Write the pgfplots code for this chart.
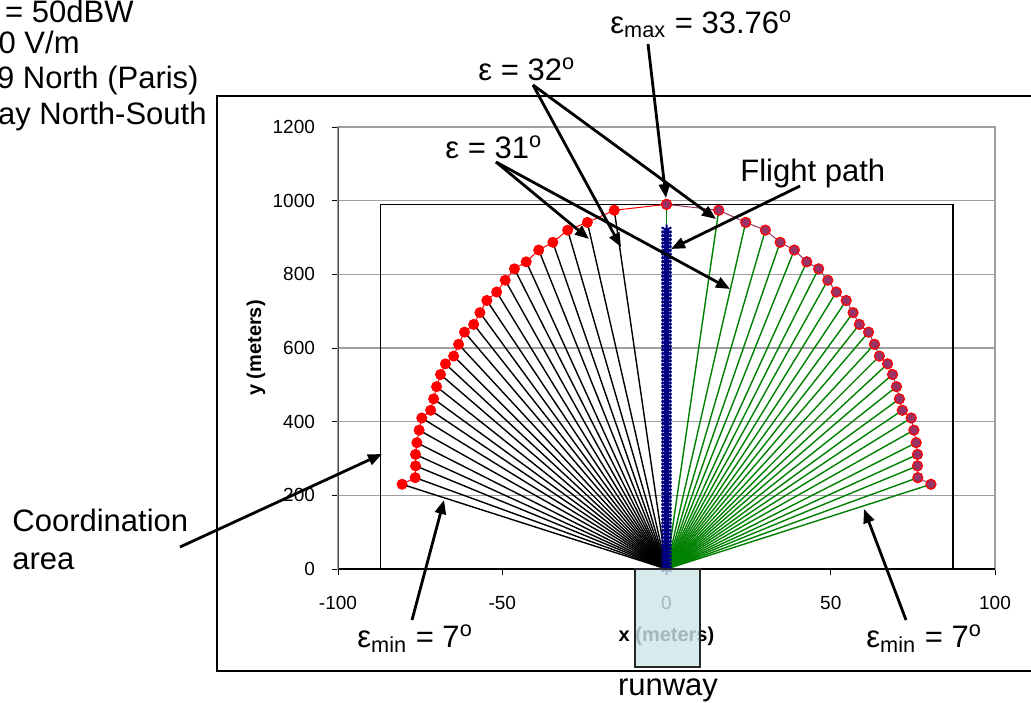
\documentclass[border=0pt]{standalone}
\usepackage{fontspec}
\setmainfont{Liberation Sans}
\usepackage{pgfplots}
\pgfplotsset{compat=1.18}
\usepackage{pgfplotstable}
\usetikzlibrary{arrows.meta}
\definecolor{fangreen}{RGB}{0,128,0}
\definecolor{plum}{RGB}{153,51,102}
\definecolor{navyblue}{RGB}{0,0,128}
\definecolor{runwayc}{RGB}{204,230,230}

\pgfplotstableread{
x y
-80.5 230
-76.5 248
-76.4 280
-76.4 311
-76.0 343
-75.3 377
-74.5 410
-71.8 431
-70.9 462
-70.0 495
-68.8 528
-67.3 557
-64.8 578
-63.3 610
-61.5 643
-58.7 664
-56.8 696
-54.7 729
-51.7 752
-49.1 784
-46.3 815
-42.7 834
-38.9 866
-34.6 887
-30.1 920
-24.1 941
-15.9 974
0 990
}\leftpts

\pgfplotstableread{
x y
0 990
15.9 974
24.1 941
30.1 920
34.6 887
38.9 866
42.7 834
46.3 815
49.1 784
51.7 752
54.7 729
56.8 696
58.7 664
61.5 643
63.3 610
64.8 578
67.3 557
68.8 528
70.0 495
70.9 462
71.8 431
74.5 410
75.3 377
76.0 343
76.4 311
76.4 280
76.5 248
80.5 230
}\rightpts

\newcommand{\bigfont}{\fontsize{15.5}{18}\selectfont}
\newcommand{\degr}{\textsuperscript{o}}

\begin{document}
\begin{tikzpicture}
\begin{scope}[x=0.5pt,y=-0.5pt]
\useasboundingbox (0,0) rectangle (1031,702);
\clip (0,0) rectangle (1031,702);
\draw[line width=1pt] (217,96) rectangle (1045,671);
\end{scope}

\begin{axis}[
  at={(169pt,-284.5pt)}, anchor=south west,
  scale only axis, width=328.5pt, height=221pt,
  xmin=-100, xmax=100, ymin=0, ymax=1200,
  xtick={-100,-50,0,50,100}, ytick={0,200,400,600,800,1000,1200},
  xtick pos=bottom, ytick pos=left,
  tick align=outside, major tick length=3pt,
  tick style={black, line width=0.5pt},
  ymajorgrids, grid style={gray!75, line width=0.8pt},
  axis line style={gray!75, line width=0.8pt},
  /pgf/number format/assume math mode=true,
  /pgf/number format/1000 sep={},
  ticklabel style={font=\fontsize{9.5}{11}\selectfont},
  xticklabel style={yshift=-7pt},
  yticklabel style={xshift=-5pt},
  xlabel={\textbf{x (meters)}}, ylabel={\textbf{y (meters)}},
  x label style={at={(axis description cs:0.5,-0.152)}, anchor=center, font=\fontsize{10}{12}\selectfont},
  y label style={at={(axis description cs:-0.125,0.5)}, anchor=center, font=\fontsize{10}{12}\selectfont},
]
% fan lines
\addplot[black, line width=0.7pt, no markers, quiver={u=\thisrow{x}, v=\thisrow{y}}] table[x expr=0, y expr=0] {\leftpts};
\addplot[fangreen, line width=0.7pt, no markers, quiver={u=\thisrow{x}, v=\thisrow{y}}] table[x expr=0, y expr=0] {\rightpts};
% coordination area
\addplot[black, line width=0.55pt, no markers] coordinates {(-87.2,0) (-87.2,990) (87.2,990) (87.2,0)};
% flight path
\addplot[navyblue, line width=1pt, mark=asterisk, mark size=2.8pt, mark options={line width=1pt}] coordinates {
(0,0) (0,10) (0,20) (0,30) (0,40) (0,50) (0,60) (0,70) (0,80) (0,90)
(0,100) (0,110) (0,120) (0,130) (0,140) (0,150) (0,160) (0,170) (0,180) (0,190)
(0,200) (0,210) (0,220) (0,230) (0,240) (0,250) (0,260) (0,270) (0,280) (0,290)
(0,300) (0,310) (0,320) (0,330) (0,340) (0,350) (0,360) (0,370) (0,380) (0,390)
(0,400) (0,410) (0,420) (0,430) (0,440) (0,450) (0,460) (0,470) (0,480) (0,490)
(0,500) (0,510) (0,520) (0,530) (0,540) (0,550) (0,560) (0,570) (0,580) (0,590)
(0,600) (0,610) (0,620) (0,630) (0,640) (0,650) (0,660) (0,670) (0,680) (0,690)
(0,700) (0,710) (0,720) (0,730) (0,740) (0,750) (0,760) (0,770) (0,780) (0,790)
(0,800) (0,810) (0,820) (0,830) (0,840) (0,850) (0,860) (0,870) (0,880) (0,890)
(0,900) (0,910) (0,920)};
% elevation contour
\addplot[red, line width=0.5pt, mark=*, mark size=2.5pt, mark options={fill=red, draw=red}] table {\leftpts};
\addplot[plum, line width=0.5pt, mark=*, mark size=2.5pt, mark options={fill=plum, draw=red, line width=0.6pt}] table {\rightpts};
% black axis lines
\draw[black, line width=0.8pt] (axis cs:-100,0) -- (axis cs:100,0);
\draw[black!70, line width=0.8pt] (axis cs:-100,0) -- (axis cs:-100,1200);
\end{axis}

\begin{scope}[x=0.5pt,y=-0.5pt, every node/.style={inner sep=0pt, font=\bigfont}]
\clip (0,0) rectangle (1031,702);
% runway
\draw[fill=runwayc, fill opacity=0.8, draw=black!85, line width=0.6pt] (635,569) rectangle (700,667);
\node[anchor=base] at (668,695) {runway};
% top-left text (only the visible part of the original)
\node[anchor=base east] at (134,22) {= 50dBW};
\node[anchor=base east] at (80,53) {0 V/m};
\node[anchor=base east] at (199,88) {9 North (Paris)};
\node[anchor=base east] at (207,124) {ay North-South};
% annotations
\node[anchor=base west] at (610,33) {ε\textsubscript{max} = 33.76\degr};
\node[anchor=base west] at (478,80) {ε = 32\degr};
\node[anchor=base west] at (445,158) {ε = 31\degr};
\node[anchor=base west] at (740,181) {Flight path};
\node[anchor=base west] at (12,531) {Coordination};
\node[anchor=base west] at (12,569) {area};
\node[anchor=base west] at (357,647) {ε\textsubscript{min} = 7\degr};
\node[anchor=base west] at (866,647) {ε\textsubscript{min} = 7\degr};
\begin{scope}[line width=1.4pt, -{Triangle[length=7pt,width=5.5pt]}]
\draw (648,44) -- (666,198);
\draw (533,85) -- (621,247);
\draw (533,85) -- (716,219);
\draw (496,162) -- (589,239);
\draw (496,162) -- (730,289);
\draw (800,186) -- (671,249);
\draw (180,547) -- (382,454);
\draw (412,620) -- (444,500);
\draw (906,620) -- (864,509);
\end{scope}
\end{scope}
\end{tikzpicture}
\end{document}
